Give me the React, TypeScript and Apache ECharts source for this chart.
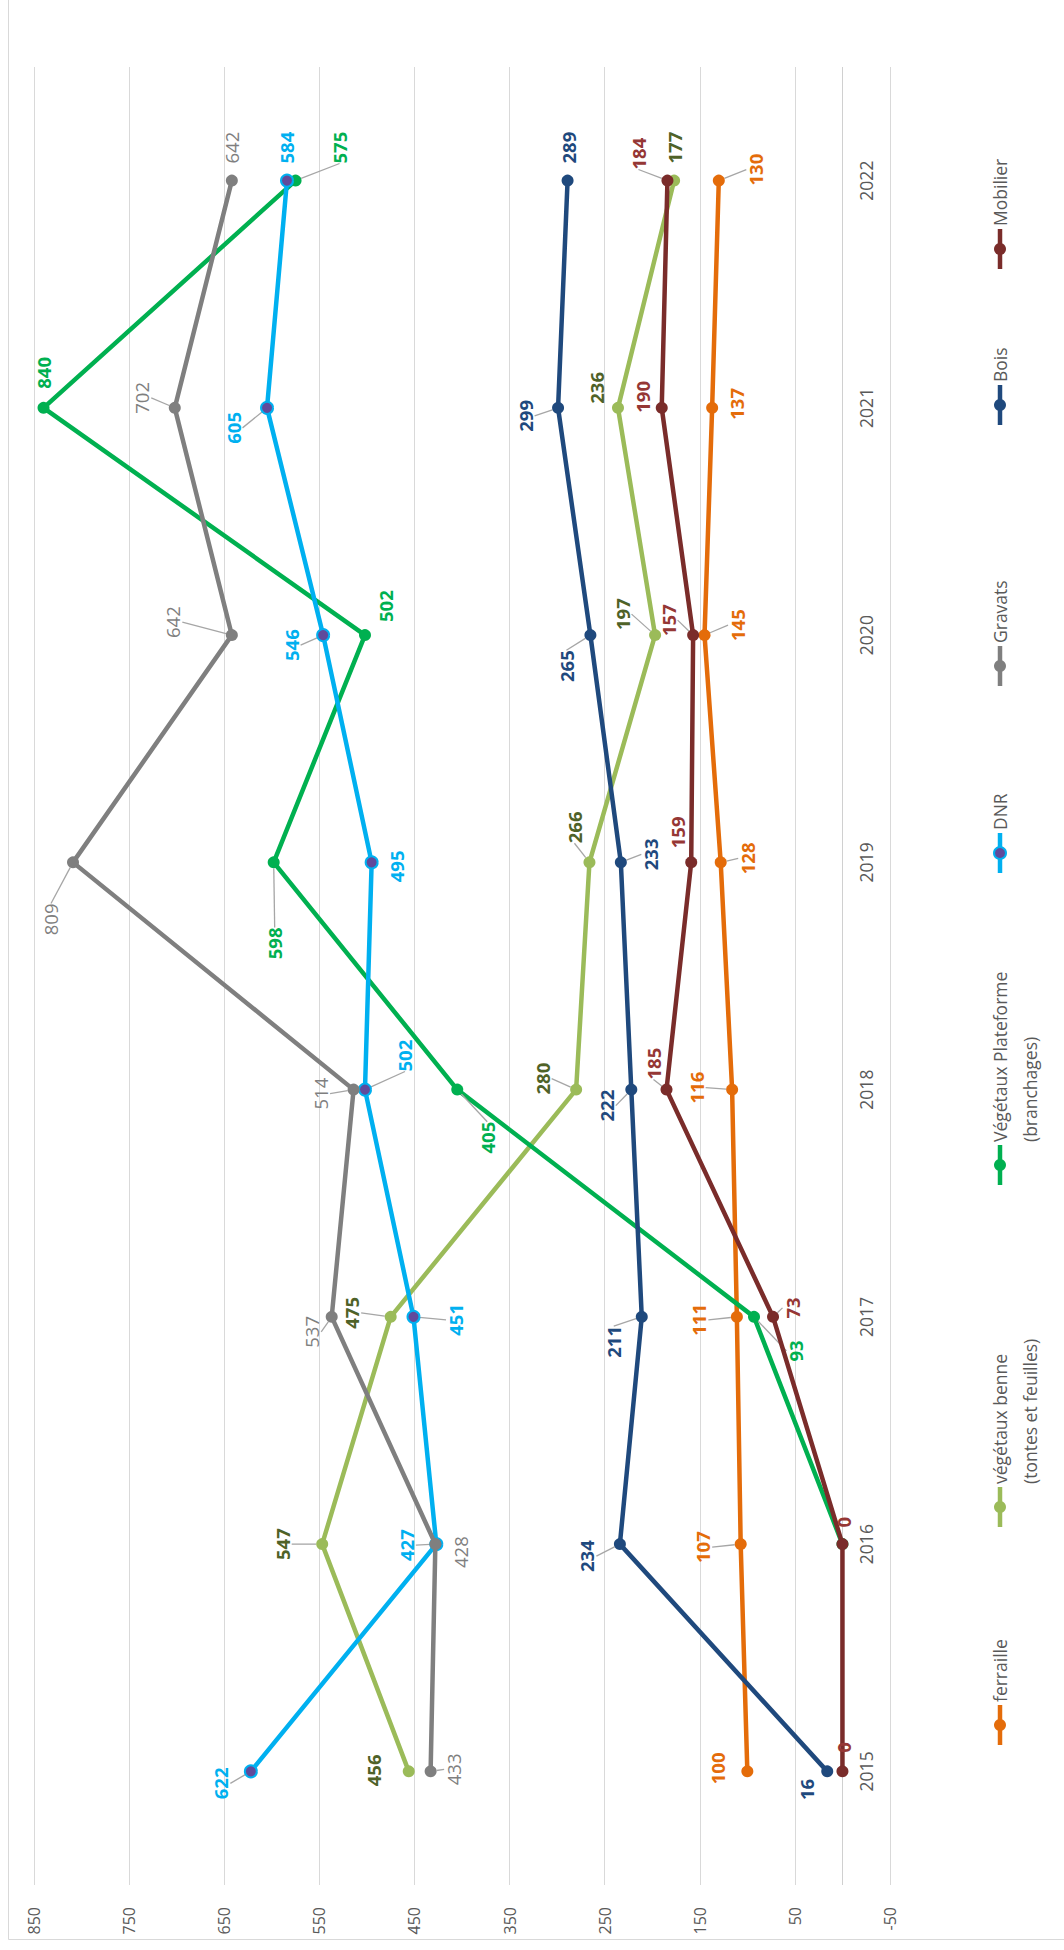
import React, { useEffect, useRef } from "react";
import * as echarts from "echarts";

const YEARS = ["2015", "2016", "2017", "2018", "2019", "2020", "2021", "2022"];
const FERRAILLE = [100, 107, 111, 116, 128, 145, 137, 130];
const VEG_BENNE = [456, 547, 475, 280, 266, 197, 236, 177];
const VEG_PLATEFORME = [null, 0, 93, 405, 598, 502, 840, 575];
const DNR = [622, 427, 451, 502, 495, 546, 605, 584];
const GRAVATS = [433, 428, 537, 514, 809, 642, 702, 642];
const BOIS = [16, 234, 211, 222, 233, 265, 299, 289];
const MOBILIER = [0, 0, 73, 185, 159, 157, 190, 184];
const VALUE_MIN = -50;
const VALUE_MAX = 850;
const VALUE_STEP = 100;

const FONT = "'Open Sans', 'DejaVu Sans', sans-serif";

type SeriesDef = {
  name: string;
  legend: string;
  data: (number | null)[];
  line: string;
  fill: string;
  border: string;
  labelColor: string;
  labelWeight: string | number;
  hidden?: number[];
  noLeader?: number[];
  offsets: [number, number][];
  legendY: number;
};

const SERIES: SeriesDef[] = [
  {
    name: "ferraille", legend: "ferraille", data: FERRAILLE, line: "#E46C0A", fill: "#E46C0A", border: "#E46C0A", labelColor: "#E46C0A", labelWeight: "bold",
    noLeader: [0, 6],
    offsets: [[-30, -3], [-38, 3], [-38, 3], [-36, -2], [27, -4], [33, -10], [24, -4], [37, -11]], legendY: 1725,
  },
  {
    name: "végétaux benne (tontes et feuilles)", legend: "végétaux benne\n(tontes et feuilles)", data: VEG_BENNE, line: "#9BBB59", fill: "#9BBB59", border: "#9BBB59", labelColor: "#4F6228", labelWeight: "bold",
    noLeader: [0, 6, 7],
    offsets: [[-35, -1], [-40, 0], [-39, -4], [-34, -11], [-15, -35], [-33, -21], [-21, -20], [0, -33]], legendY: 1507,
  },
  {
    name: "Végétaux Plateforme (branchages)", legend: "Végétaux Plateforme\n(branchages)", data: VEG_PLATEFORME, line: "#00B050", fill: "#00B050", border: "#00B050", labelColor: "#00B050", labelWeight: "bold",
    hidden: [1],
    noLeader: [5, 6],
    offsets: [[0, 0], [0, 0], [42, 34], [30, 48], [1, 81], [21, -29], [0, -35], [44, -33]], legendY: 1165,
  },
  {
    name: "DNR", legend: "DNR", data: DNR, line: "#00B0F0", fill: "#604A9B", border: "#00B0F0", labelColor: "#00B0F0", labelWeight: "bold",
    noLeader: [4, 7],
    offsets: [[-30, 12], [-30, 1], [42, 3], [40, -34], [25, 4], [-32, 10], [-34, 20], [0, -33]], legendY: 853,
  },
  {
    name: "Gravats", legend: "Gravats", data: GRAVATS, line: "#7F7F7F", fill: "#7F7F7F", border: "#7F7F7F", labelColor: "#7F7F7F", labelWeight: "normal",
    noLeader: [1, 7],
    offsets: [[23, -2], [25, 8], [-20, 15], [-33, 4], [-22, 57], [-59, -13], [-33, -10], [0, -33]], legendY: 666,
  },
  {
    name: "Bois", legend: "Bois", data: BOIS, line: "#1F497D", fill: "#1F497D", border: "#1F497D", labelColor: "#1F497D", labelWeight: "bold",
    noLeader: [0, 7],
    offsets: [[-21, 18], [-33, 12], [-28, 25], [-25, 16], [30, -8], [-24, 31], [-33, 8], [1, -33]], legendY: 405,
  },
  {
    name: "Mobilier", legend: "Mobilier", data: MOBILIER, line: "#7A2C2A", fill: "#7A2C2A", border: "#7A2C2A", labelColor: "#953735", labelWeight: "bold",
    noLeader: [0, 1, 4, 6],
    offsets: [[1, -24], [1, -22], [19, -9], [-13, -26], [-14, -30], [-25, -15], [-19, -11], [-29, -27]], legendY: 249,
  },
];

export default function App() {
  const ref = useRef<HTMLDivElement>(null);

  useEffect(() => {
    document.body.style.margin = "0";
    if (!ref.current) return;
    const chart = echarts.init(ref.current, undefined, { renderer: "svg" });

    const series: any[] = SERIES.map((s, si) => ({
      name: s.name,
      type: "line",
      data: s.data.map((v, i) => ({
        value: v,
        label: { show: !(s.hidden && s.hidden.includes(i)) },
        labelLine: { show: !(s.noLeader && s.noLeader.includes(i)) },
      })),
      symbol: "circle",
      symbolSize: 12,
      showAllSymbol: true,
      lineStyle: { color: s.line, width: 4.5 },
      itemStyle: { color: s.fill, borderColor: s.border, borderWidth: s.fill !== s.border ? 2 : 0 },
      label: {
        show: true,
        rotate: 90,
        color: s.labelColor,
        fontSize: 18.5,
        fontWeight: s.labelWeight,
        fontFamily: FONT,
      },
      labelLine: { show: true, lineStyle: { color: "#A6A6A6", width: 1.3 } },
      labelLayout: (params: any) => {
        const off = SERIES[params.seriesIndex].offsets[params.dataIndex] || [0, 0];
        const cx = params.rect.x + params.rect.width / 2;
        const cy = params.rect.y + params.rect.height / 2;
        return { x: cx + off[0], y: cy + off[1], align: "center", verticalAlign: "middle", rotate: 90 };
      },
      markLine: si === 0 ? {
        silent: true,
        symbol: "none",
        label: { show: false },
        lineStyle: { color: "#D0D0D0", width: 1, type: "solid" },
        data: [{ xAxis: 0 }],
        z: 1,
      } : undefined,
      z: 2 + si,
    }));

    const legendGraphics: any[] = [];
    SERIES.forEach((s) => {
      legendGraphics.push({
        type: "line",
        shape: { x1: 1000, y1: s.legendY - 20, x2: 1000, y2: s.legendY + 20 },
        style: { stroke: s.line, lineWidth: 4.5 },
      });
      legendGraphics.push({
        type: "circle",
        shape: { cx: 1000, cy: s.legendY, r: 6 },
        style: { fill: s.fill, stroke: s.border, lineWidth: s.fill !== s.border ? 2 : 0 },
      });
      const twoLines = s.legend.includes("\n");
      legendGraphics.push({
        type: "text",
        x: twoLines ? 1015 : 1000,
        y: s.legendY - 23,
        rotation: Math.PI / 2,
        style: {
          text: s.legend,
          fill: "#595959",
          fontSize: 17.5,
          fontFamily: FONT,
          align: "left",
          verticalAlign: "middle",
          lineHeight: 30,
        },
      });
    });

    chart.setOption({
      animation: false,
      backgroundColor: "#ffffff",
      grid: { left: 34, right: 174, top: 67, bottom: 65, containLabel: false },
      xAxis: {
        type: "value",
        inverse: true,
        min: VALUE_MIN,
        max: VALUE_MAX,
        interval: VALUE_STEP,
        axisLine: { show: false },
        axisTick: { show: false },
        splitLine: { show: true, lineStyle: { color: "#D9D9D9", width: 1 } },
        axisLabel: { rotate: 90, margin: 22, color: "#595959", fontSize: 16, fontFamily: FONT },
      },
      yAxis: {
        type: "category",
        data: YEARS,
        position: "right",
        boundaryGap: true,
        axisLine: { show: false },
        axisTick: { show: false },
        splitLine: { show: false },
        axisLabel: { inside: true, rotate: 90, margin: 15, color: "#595959", fontSize: 17.5, fontFamily: FONT },
      },
      series,
      graphic: [
        {
          type: "line",
          shape: { x1: 8.5, y1: 0, x2: 8.5, y2: 1939.5 },
          style: { stroke: "#D9D9D9", lineWidth: 1 },
        },
        {
          type: "line",
          shape: { x1: 8.5, y1: 1939.5, x2: 1064, y2: 1939.5 },
          style: { stroke: "#D9D9D9", lineWidth: 1 },
        },
        ...legendGraphics,
      ],
    });

    return () => chart.dispose();
  }, []);

  return <div ref={ref} style={{ width: 1064, height: 1950 }} />;
}
